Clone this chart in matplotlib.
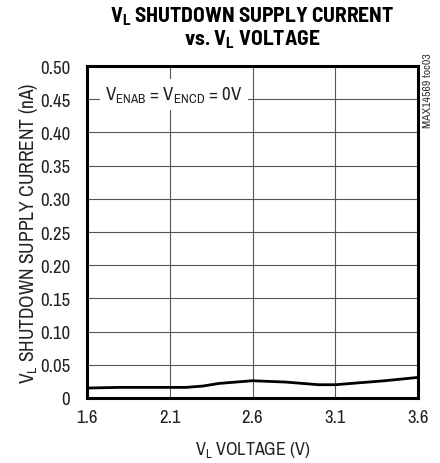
import matplotlib
matplotlib.use("Agg")
import matplotlib.pyplot as plt

plt.rcParams["font.family"] = ["Archivo Narrow", "Liberation Sans", "DejaVu Sans"]

voltage = [1.6, 1.8, 2.0, 2.2, 2.3, 2.4, 2.5, 2.6, 2.7, 2.8, 2.9, 3.0, 3.1, 3.2, 3.4, 3.6]
current = [0.015, 0.016, 0.016, 0.016, 0.018, 0.022, 0.024, 0.026, 0.025, 0.024, 0.022, 0.020, 0.020, 0.022, 0.026, 0.031]
xticks = [1.6, 2.1, 2.6, 3.1, 3.6]
yticks = [0, 0.05, 0.10, 0.15, 0.20, 0.25, 0.30, 0.35, 0.40, 0.45, 0.50]
ylabels = ["0", "0.05", "0.10", "0.15", "0.20", "0.25", "0.30", "0.35", "0.40", "0.45", "0.50"]

TXT = "#222222"

fig = plt.figure(figsize=(4.4, 4.64), dpi=100)
ax = fig.add_axes([87 / 440, 1 - 399 / 464, 331 / 440, 332 / 464])

ax.plot(voltage, current, color="black", lw=2, zorder=3)
ax.set_xlim(1.6, 3.6)
ax.set_ylim(0, 0.5)
ax.set_xticks(xticks)
ax.set_xticklabels([f"{v:.1f}" for v in xticks])
ax.set_yticks(yticks)
ax.set_yticklabels(ylabels)
ax.tick_params(length=0, labelsize=13.5, labelcolor=TXT)
ax.tick_params(axis="y", pad=12)
ax.tick_params(axis="x", pad=8)
ax.grid(True, color="#555555", lw=0.8)
for sp in ax.spines.values():
    sp.set_linewidth(2.2)

ax.set_xlabel(r"V$_\mathregular{L}$ VOLTAGE (V)", fontsize=13, labelpad=10, color=TXT)
ax.set_ylabel(r"V$_\mathregular{L}$ SHUTDOWN SUPPLY CURRENT (nA)", fontsize=14, labelpad=0, color=TXT)

ax.text(0.055, 0.945, r"V$_\mathregular{ENAB}$ = V$_\mathregular{ENCD}$ = 0V", transform=ax.transAxes,
        fontsize=13.5, va="top", ha="left", zorder=4, color=TXT,
        bbox=dict(facecolor="white", edgecolor="none", pad=4))

fig.text(252 / 440, 1 - 5 / 464, "V$_\\mathregular{L}$ SHUTDOWN SUPPLY CURRENT\nvs. V$_\\mathregular{L}$ VOLTAGE",
         ha="center", va="top", fontsize=15.5, fontweight="bold", linespacing=1.05,
         family=["Barlow Semi Condensed", "Liberation Sans", "DejaVu Sans"])
fig.text(428 / 440, 1 - 53 / 464, "MAX14569 toc03", rotation=90, ha="center", va="top",
         fontsize=8.5, color="#333333")

fig.savefig("out.png", dpi=100)
